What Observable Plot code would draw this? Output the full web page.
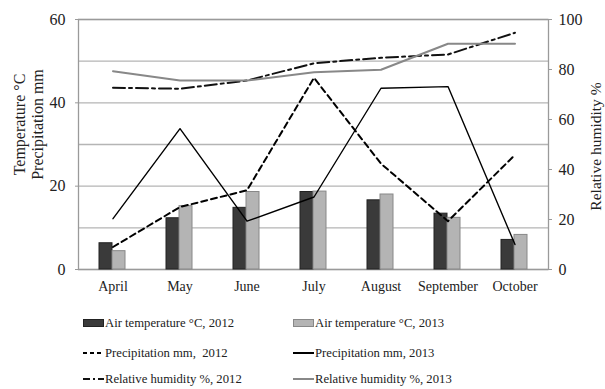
<!DOCTYPE html>
<html><head><meta charset="utf-8">
<script src="https://cdn.jsdelivr.net/npm/d3@7"></script>
<script src="https://cdn.jsdelivr.net/npm/@observablehq/plot@0.6"></script>
<style>
body{margin:0;background:#fff;font-family:"Times New Roman","Liberation Serif","DejaVu Serif",serif;color:#222;}
#wrap{position:relative;width:605px;height:389px;}
#legend{position:absolute;left:0;top:305px;width:605px;height:84px;}
.item{position:absolute;display:flex;align-items:center;font-size:12.7px;white-space:pre;font-family:"Times New Roman","Liberation Serif","DejaVu Serif",serif;}
.item svg{margin-right:1px;}
svg text{font-family:"Times New Roman","Liberation Serif","DejaVu Serif",serif;}
</style>
</head><body>
<div id="wrap"><div id="chart"></div><div id="legend"></div></div>
<script>
const months = ["April","May","June","July","August","September","October"];
const temp2012 = [6.3,12.3,14.8,18.6,16.6,13.4,7.1];
const temp2013 = [4.4,15.2,18.6,18.7,18.0,12.4,8.3];
const precip2012 = [5.4,15.0,19.0,46.0,25.4,11.6,27.5];
const precip2013 = [12.2,33.8,11.6,17.4,43.5,43.9,6.0];
const rh2012 = [72.7,72.3,75.6,82.5,84.7,86.0,94.7];
const rh2013 = [79.3,75.6,75.6,78.9,79.9,90.3,90.3];
const leftTicks = [0,20,40,60];
const rightTicks = [0,20,40,60,80,100];
const gridValues = [0,10,20,30,40,50,60];
const leftLabel = "Temperature °C\nPrecipitation mm";
const rightLabel = "Relative humidity %";
const legendItems = [
  {label:"Air temperature °C, 2012", kind:"bar", color:"#3a3a3a", stroke:"#222"},
  {label:"Air temperature °C, 2013", kind:"bar", color:"#b4b4b4", stroke:"#888"},
  {label:"Precipitation mm,  2012", kind:"line", color:"#000", width:2, dash:"4,3"},
  {label:"Precipitation mm, 2013", kind:"line", color:"#000", width:2, dash:null},
  {label:"Relative humidity %, 2012", kind:"line", color:"#111", width:2, dash:"7,3,2,3"},
  {label:"Relative humidity %, 2013", kind:"line", color:"#888", width:2, dash:null}
];

const FONT = "Times New Roman, Liberation Serif, DejaVu Serif, serif";
const k = 60/100; // humidity (0-100) mapped onto the 0-60 left scale
const rows = months.map((m,i)=>({month:m,t12:temp2012[i],t13:temp2013[i],p12:precip2012[i],p13:precip2013[i],rh12:rh2012[i],rh13:rh2013[i]}));

const chart = Plot.plot({
  width:605, height:305,
  marginTop:19, marginBottom:36, marginLeft:78, marginRight:57,
  style:{fontFamily:FONT, fontSize:"14px", color:"#222", background:"#fff"},
  x:{type:"band", domain:months, padding:0, label:null},
  y:{domain:[0,60], label:null},
  marks:[
    Plot.ruleY(gridValues,{stroke:"#b5b5b5", strokeWidth:1.3}),
    Plot.frame({stroke:"#9a9a9a", strokeWidth:1.3}),
    Plot.barY(rows,{x:"month", y:"t12", fill:"#3a3a3a", stroke:"#222", strokeWidth:1, insetLeft:20, insetRight:34}),
    Plot.barY(rows,{x:"month", y:"t13", fill:"#b4b4b4", stroke:"#888", strokeWidth:1, insetLeft:33, insetRight:21}),
    Plot.lineY(rows,{x:"month", y:"p12", stroke:"#000", strokeWidth:2, strokeDasharray:"6,4"}),
    Plot.lineY(rows,{x:"month", y:"p13", stroke:"#000", strokeWidth:1.4}),
    Plot.lineY(rows,{x:"month", y:d=>d.rh12*k, stroke:"#111", strokeWidth:2, strokeDasharray:"12,4,3,4"}),
    Plot.lineY(rows,{x:"month", y:d=>d.rh13*k, stroke:"#888", strokeWidth:2}),
    Plot.axisX({tickSize:0, tickPadding:12, fontSize:14, fontFamily:FONT, label:null}),
    Plot.axisY(leftTicks,{anchor:"left", tickSize:3, tickPadding:10, fontSize:16, fontFamily:FONT, stroke:"#9a9a9a", label:null}),
    Plot.axisY(rightTicks.map(v=>v*k),{anchor:"right", tickSize:3, tickPadding:7, fontSize:16, fontFamily:FONT, stroke:"#9a9a9a", tickFormat:d=>String(Math.round(d/k)), label:null}),
    Plot.text([leftLabel],{text:d=>d, frameAnchor:"left", textAnchor:"middle", lineAnchor:"middle", rotate:-90, dx:-50, dy:-20, fontSize:16, fontFamily:FONT, lineHeight:1.07}),
    Plot.text([rightLabel],{text:d=>d, frameAnchor:"right", textAnchor:"middle", lineAnchor:"middle", rotate:-90, dx:48, dy:2, fontSize:15.5, fontFamily:FONT})
  ]
});
document.getElementById("chart").appendChild(chart);

const legend = document.getElementById("legend");
const cols = [83, 293];
const rowsY = [18, 48, 74];
legendItems.forEach((it,i)=>{
  const div = document.createElement("div");
  div.className = "item";
  div.style.left = cols[i%2]+"px";
  div.style.top = (rowsY[Math.floor(i/2)]-9)+"px";
  const ns = "http://www.w3.org/2000/svg";
  const s = document.createElementNS(ns,"svg");
  s.setAttribute("width","21"); s.setAttribute("height","18");
  if(it.kind==="bar"){
    const r = document.createElementNS(ns,"rect");
    r.setAttribute("x","0.5"); r.setAttribute("y","5.5"); r.setAttribute("width","20"); r.setAttribute("height","7");
    r.setAttribute("fill",it.color); r.setAttribute("stroke",it.stroke);
    s.appendChild(r);
  } else {
    const l = document.createElementNS(ns,"line");
    l.setAttribute("x1","0"); l.setAttribute("x2","21"); l.setAttribute("y1","9"); l.setAttribute("y2","9");
    l.setAttribute("stroke",it.color); l.setAttribute("stroke-width",it.width);
    if(it.dash) l.setAttribute("stroke-dasharray",it.dash);
    s.appendChild(l);
  }
  div.appendChild(s);
  const t = document.createElement("span");
  t.textContent = it.label;
  div.appendChild(t);
  legend.appendChild(div);
});
</script>
</body></html>
